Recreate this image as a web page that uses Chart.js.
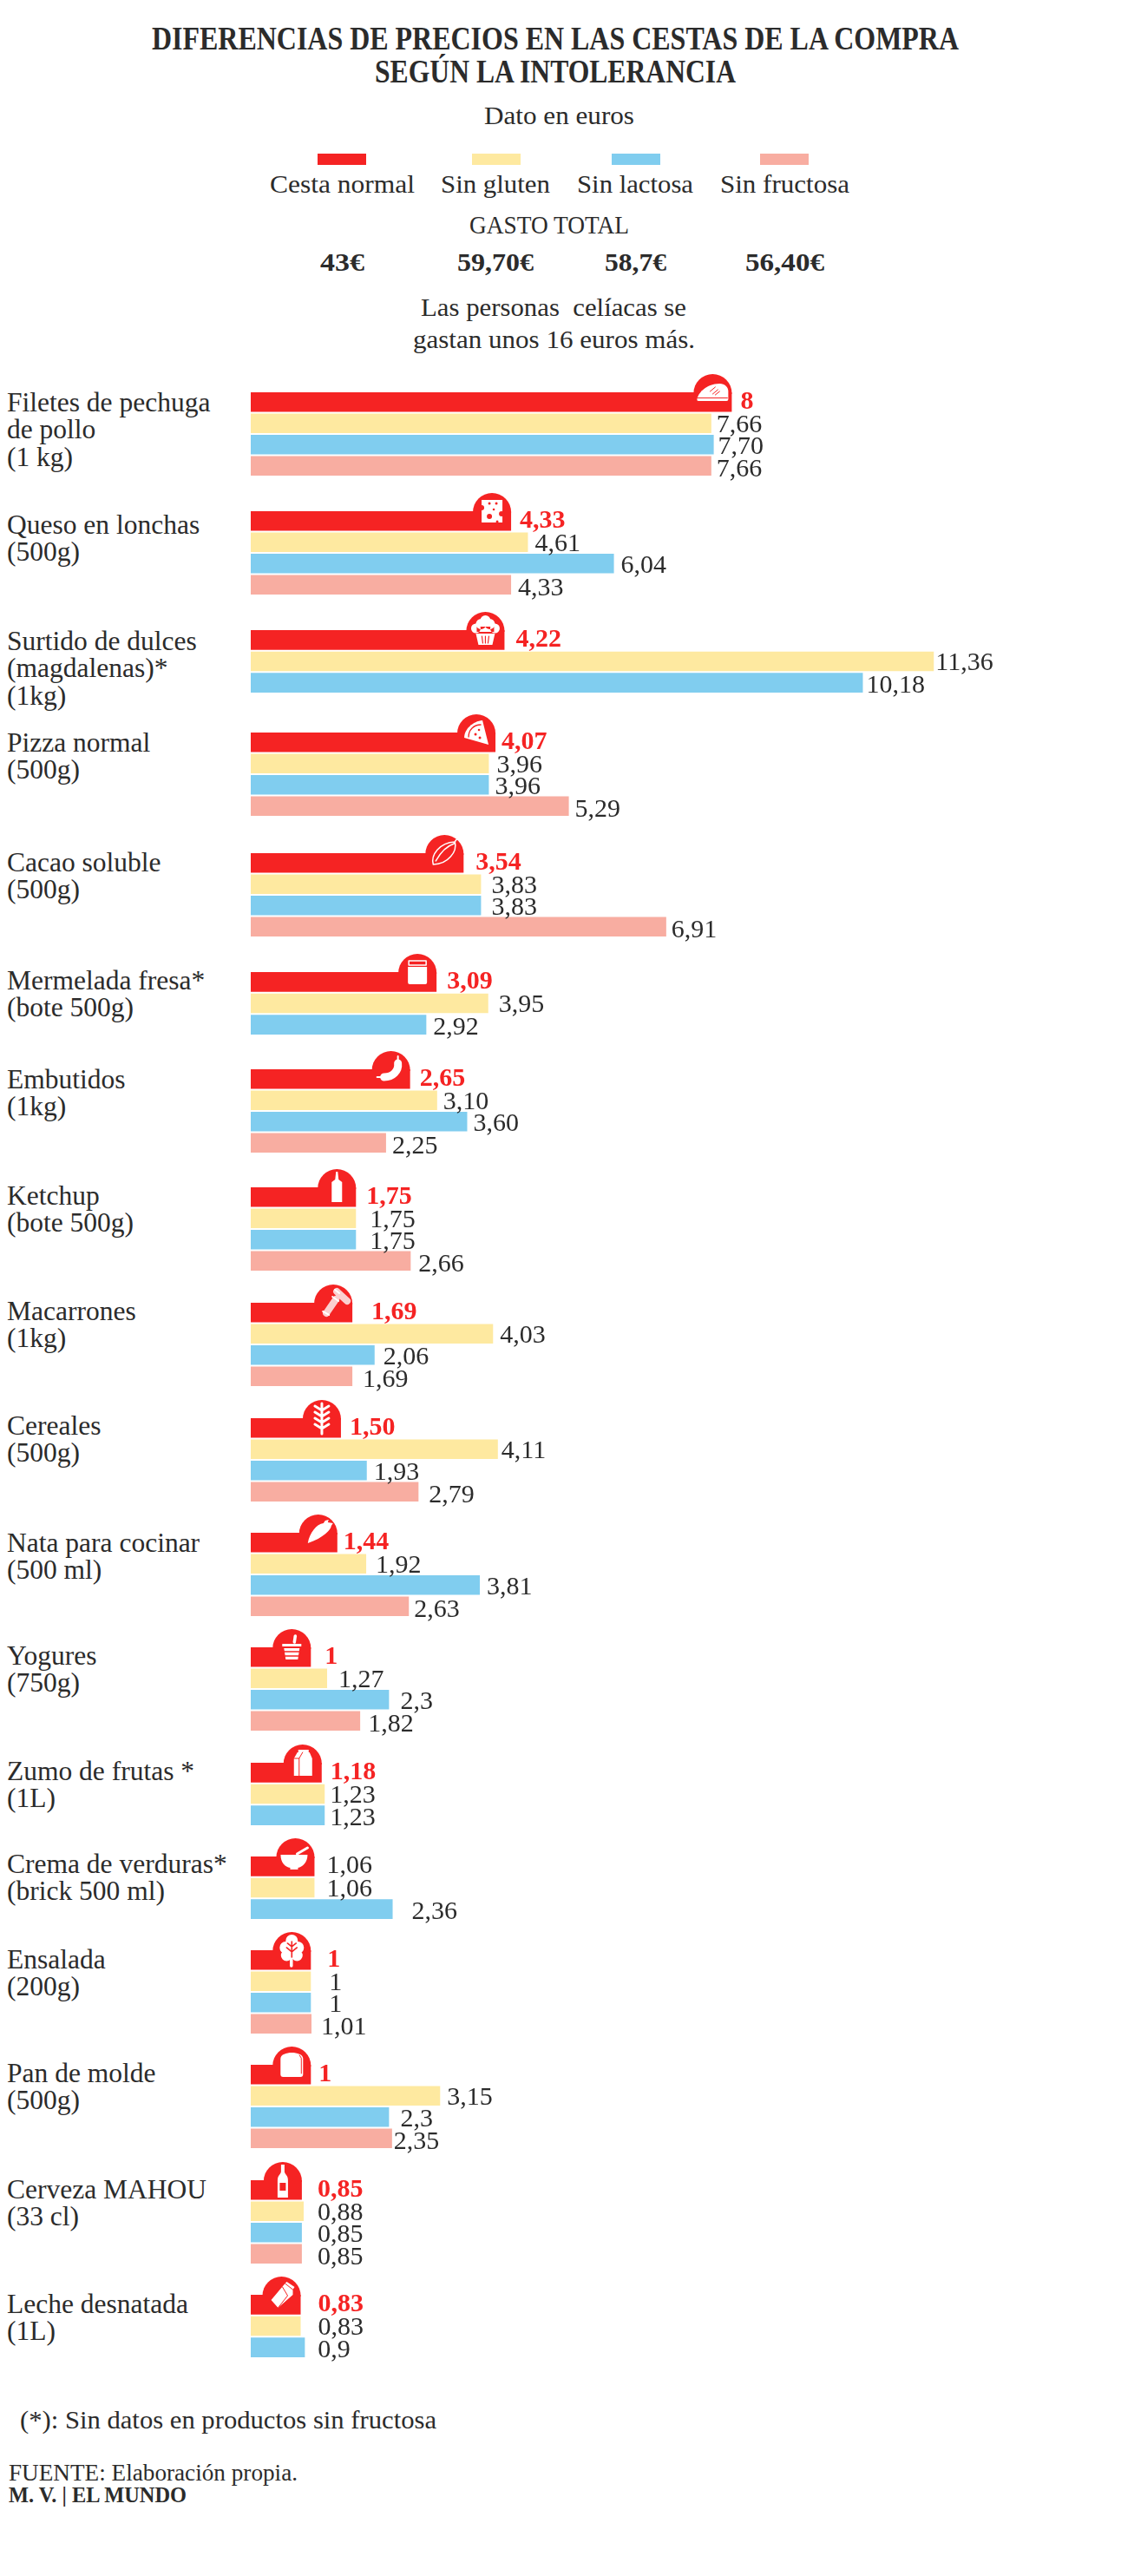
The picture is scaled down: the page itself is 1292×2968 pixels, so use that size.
<!DOCTYPE html>
<html lang="es">
<head>
  <meta charset="UTF-8">
  <title>Diferencias de precios en las cestas de la compra</title>
  <script src="https://cdn.jsdelivr.net/npm/chart.js"></script>
  <style>
    body { margin: 0; background: #fff; }
    #page { position: relative; width: 1292px; height: 2968px; overflow: hidden;
      font-family: "Liberation Serif", serif; color: #2b2b2b; }
    #page span { position: absolute; white-space: pre; transform-origin: 0 0; line-height: 1; }
    #page canvas { position: absolute; left: 0; }
    .swatch { position: absolute; height: 13px; top: 177px; }
  </style>
</head>
<body>
<div id="page"></div>
<script>
  const products = [
    ['Filetes de pechuga', 'de pollo', '(1 kg)'],
    ['Queso en lonchas', '(500g)'],
    ['Surtido de dulces', '(magdalenas)*', '(1kg)'],
    ['Pizza normal', '(500g)'],
    ['Cacao soluble', '(500g)'],
    ['Mermelada fresa*', '(bote 500g)'],
    ['Embutidos', '(1kg)'],
    ['Ketchup', '(bote 500g)'],
    ['Macarrones', '(1kg)'],
    ['Cereales', '(500g)'],
    ['Nata para cocinar', '(500 ml)'],
    ['Yogures', '(750g)'],
    ['Zumo de frutas *', '(1L)'],
    ['Crema de verduras*', '(brick 500 ml)'],
    ['Ensalada', '(200g)'],
    ['Pan de molde', '(500g)'],
    ['Cerveza MAHOU', '(33 cl)'],
    ['Leche desnatada', '(1L)']
  ];
  const seriesNames = ['Cesta normal', 'Sin gluten', 'Sin lactosa', 'Sin fructosa'];
  const seriesTotals = ['43€', '59,70€', '58,7€', '56,40€'];
  const cestaNormal = [8, 4.33, 4.22, 4.07, 3.54, 3.09, 2.65, 1.75, 1.69, 1.5, 1.44, 1, 1.18, 1.06, 1, 1, 0.85, 0.83];
  const sinGluten = [7.66, 4.61, 11.36, 3.96, 3.83, 3.95, 3.1, 1.75, 4.03, 4.11, 1.92, 1.27, 1.23, 1.06, 1, 3.15, 0.88, 0.83];
  const sinLactosa = [7.7, 6.04, 10.18, 3.96, 3.83, 2.92, 3.6, 1.75, 2.06, 1.93, 3.81, 2.3, 1.23, 2.36, 1, 2.3, 0.85, 0.9];
  const sinFructosa = [7.66, 4.33, null, 5.29, 6.91, null, 2.25, 2.66, 1.69, 2.79, 2.63, 1.82, null, null, 1.01, 2.35, 0.85, null];
  // the graphic prints these four with the trailing zero
  const printedTwoDecimals = [7.7, 3.1, 3.6, 1.5];

  // layout
  const seriesColors = ['#f52323', '#fee9a0', '#80cdef', '#f8ada1'];
  const rowTops = [452, 589, 726, 844, 983, 1120, 1232, 1368, 1501, 1634, 1766, 1898, 2031, 2139, 2247, 2379, 2512, 2644];
  const labelDrops = [22, 26, 23, 22, 21, 20, 22, 20, 20, 19, 22, 20, 20, 19, 21, 20, 21, 21];
  const barLeft = 289, pxPerEuro = 69.3, slot = 24.7;
  const pageWidth = 1292;
  // the figures were set by hand, so each one sits a little off the bar end
  const figureNudges = [
    [0, -4, -5, -4], [0, -2, -2, -2], [3, -8, -6], [-3, -1, -3, -3], [4, 2, 2, -4], [2, 2, -2],
    [1, -3, -3, -3], [2, 6, 6, -1], [12, -2, 0, 2], [0, -6, -2, 2], [-3, 1, -2, -4], [6, 3, 3, -1],
    [0, -4, -4], [4, 4, 12], [9, 11, 11, 1], [-1, -2, 3, -8], [8, 6, 8, 8], [10, 10, 5]
  ];
  const figureDrops = [8, 10, 11, 12];

  const page = document.getElementById('page');

  function text(str, x, baseline, opts) {
    const o = opts || {};
    const size = o.size || 30;
    const el = document.createElement('span');
    el.textContent = str;
    el.style.fontSize = size + 'px';
    if (o.bold) el.style.fontWeight = 'bold';
    // line-height 1: baseline sits about .8375 of the size below the top
    el.style.top = (baseline - size * 0.8375) + 'px';
    page.appendChild(el);
    const natural = el.getBoundingClientRect().width;
    const width = o.width || natural;
    const left = o.center ? x - width / 2 : x;
    el.style.left = left + 'px';
    el.style.transform = 'scaleX(' + (width / natural) + ')';
  }

  // white pictograms on the red tab, centred on the top of the bar end
  const dot = (x, y, r) => `M${x - r} ${y}a${r} ${r} 0 1 0 ${2 * r} 0a${r} ${r} 0 1 0 ${-2 * r} 0`;
  const white = '#fff', red = seriesColors[0], pale = '#fbcfcf';
  const icons = [
    [{ c: white, d: 'M-18 9C-18 2-8-10 8-10C14-10 18-6 18-1V8Q18 10 16 10H-16Q-18 10-18 9Z' },
     { c: red, w: 1, d: 'M-17 6.5H17M-3-1L3-6M0 2L6-3M3 3L8-1' }],
    [{ c: white, d: 'M-12-13H12V13H-12Z' },
     { c: red, d: dot(-12, -4, 3) + dot(-3, -9, 1.5) + dot(5, -9, 1.5) + dot(2, -2, 1.3) + dot(-3, 6, 3) + dot(11, 3, 3) + dot(6, 12, 1.5) }],
    [{ c: white, d: dot(-11, -2, 5.5) + dot(11, -2, 5.5) + dot(-5, -7, 6) + dot(5, -7, 6) + dot(0, -11, 6) + 'M-10-4H10V2H-10Z' },
     { c: white, d: 'M-11 4H11L8 17H-8Z' },
     { c: red, w: 1.2, d: 'M-4 7L-3 15M0 7V15M4 7L3 15' }],
    [{ c: white, d: 'M14 14L-14 6C-14-4-4-13 7-14Z' },
     { c: red, w: 1.3, d: 'M-9 5C-9-3-3-9 5-9' },
     { c: red, d: dot(-1, 2, 1.5) + dot(3, -3, 1.3) + dot(4, 6, 1.5) }],
    [{ c: white, w: 1.5, d: 'M-13 13C-16 2-6-12 12-13C15-2 4 13-13 13ZM-10 9C-4-2 2-8 11-11M11-12L14-16' }],
    [{ c: white, d: 'M-11-6H11V12Q11 14 9 14H-9Q-11 14-11 12Z' },
     { c: white, w: 1.5, d: 'M-10-13H10V-8H-10Z' }],
    [{ c: white, w: 9, d: 'M-8 9C2 9 9 2 8-7' },
     { c: white, w: 2, d: 'M8-11V-15M-12 9H-16' }],
    [{ c: white, d: 'M-1-18H1L2-9L6-6V17H-6V-6L-2-9Z' }],
    [{ c: pale, w: 8, d: 'M-8 12L3-4M4-13L16-2' },
     { c: white, w: 2, d: 'M-12 10L-5 14M-1-7L6-2M2-15L7-11' }],
    [{ c: white, w: 3, d: 'M-8-14L0-9L8-14M-8-7L0-2L8-7M-8 0L0 5L8 0M-8 7L0 12L8 7M0-17V18' }],
    [{ c: white, d: 'M-12 12C-10 0-2-10 6-11L8-14L12-15L11-12L17-11L15-8C15-4 6 6-12 12Z' }],
    [{ c: white, d: 'M-11-4H11V-1H-11ZM-9 1H9L7 14H-7Z' },
     { c: red, w: 1.5, d: 'M-9 5H9M-9 10H9' },
     { c: white, w: 3.5, d: 'M3-6L4-13' }],
    [{ c: white, d: 'M-10-5L-6-12H-5V-15H7V-12H8L11-5V15H-10Z' },
     { c: red, w: 1, d: 'M-4-5V15M-10-5H-4L0-12' }],
    [{ c: white, d: 'M-17-2H14C14 7 8 12 3 13V15H-6V13C-12 12-17 7-17-2Z' },
     { c: white, w: 3, d: 'M2-3L14-10' }],
    [{ c: white, d: dot(0, -11, 7) + dot(-7, -3, 7) + dot(7, -3, 7) + dot(-6, 6, 6.5) + dot(6, 6, 6.5) + dot(0, 2, 8) },
     { c: white, w: 3.5, d: 'M-.5 8V18' },
     { c: red, w: 1.6, d: 'M0-10V8M0-4L-5-8M0-4L5-8M0 2L-6-3M0 2L6-3' }],
    [{ c: white, d: 'M-13-7C-13-12-6-14 0-14C6-14 13-12 13-7V11Q13 14 10 14H-10Q-13 14-13 11Z' },
     { c: red, w: 1, d: 'M9-11Q12-8 11-4V10' }],
    [{ c: white, d: 'M-2-18H2V-10C2-7 6-6 6 0V20H-6V0C-6-6-2-7-2-10Z' },
     { c: red, d: 'M-3.5 3H3.5V12H-3.5Z' }],
    [{ c: white, d: 'M-12 6L4-13L6-15L15-9L13-6L13 0L-4 15Z' },
     { c: red, w: 1, d: 'M4-13L13-6M1-9L7 1L-4 15' }]
  ];

  function printed(v) {
    return printedTwoDecimals.includes(v) ? v.toFixed(2).replace('.', ',') : String(v).replace('.', ',');
  }

  const endLabels = {
    id: 'endLabels',
    afterDatasetsDraw(chart) {
      const ctx = chart.ctx;
      const row = chart.options.row;
      const bars = chart.getDatasetMeta(0).data;
      const values = chart.data.datasets[0].data;

      // the round tab with the pictogram on the first bar
      const end = bars[0].x, top = bars[0].y - bars[0].height / 2;
      ctx.save();
      ctx.fillStyle = red;
      ctx.beginPath();
      ctx.arc(end - 22, top + 1, 22, Math.PI, 0);
      ctx.lineTo(end, top + 2);
      ctx.lineTo(end - 44, top + 2);
      ctx.fill();
      ctx.translate(end - 22, top);
      ctx.lineCap = 'round';
      ctx.lineJoin = 'round';
      icons[row].forEach(part => {
        const path = new Path2D(part.d);
        if (part.w) {
          ctx.strokeStyle = part.c;
          ctx.lineWidth = part.w;
          ctx.stroke(path);
        } else {
          ctx.fillStyle = part.c;
          ctx.fill(path);
        }
      });
      ctx.restore();

      ctx.save();
      bars.forEach((bar, i) => {
        // Crema de verduras has its first figure in plain ink
        const highlight = i === 0 && row !== 13;
        ctx.font = (highlight ? 'bold ' : '') + '30px "Liberation Serif"';
        ctx.fillStyle = highlight ? red : '#2b2b2b';
        ctx.fillText(printed(values[i]), bar.x + 10 + figureNudges[row][i], bar.y + figureDrops[i]);
      });
      ctx.restore();
    }
  };

  text('DIFERENCIAS DE PRECIOS EN LAS CESTAS DE LA COMPRA', 175, 56.5, { size: 37, bold: true, width: 930 });
  text('SEGÚN LA INTOLERANCIA', 432, 95, { size: 37, bold: true, width: 416 });
  text('Dato en euros', 644, 143.5, { size: 30, center: true, width: 173 });

  const legendLeft = [366, 544, 705, 876], legendWidth = 56;
  const legendCenter = [394.5, 571, 732, 904], legendTextWidth = [167, 126, 134, 149], totalWidth = [51, 88, 71, 91];
  seriesNames.forEach((name, i) => {
    const sw = document.createElement('div');
    sw.className = 'swatch';
    sw.style.left = legendLeft[i] + 'px';
    sw.style.width = legendWidth + 'px';
    sw.style.background = seriesColors[i];
    page.appendChild(sw);
    text(name, legendCenter[i], 222.5, { center: true, width: legendTextWidth[i] });
    text(seriesTotals[i], legendCenter[i], 312, { center: true, bold: true, width: totalWidth[i] });
  });
  text('GASTO TOTAL', 633, 269.5, { center: true, width: 184 });
  text('Las personas  celíacas se', 638, 364.5, { center: true, width: 306 });
  text('gastan unos 16 euros más.', 638, 401, { center: true, width: 325 });

  products.forEach((lines, row) => {
    lines.forEach((line, k) => {
      text(line, 8, rowTops[row] + labelDrops[row] + k * 31.5, { size: 31.5 });
    });

    const values = [cestaNormal[row], sinGluten[row], sinLactosa[row], sinFructosa[row]];
    const present = values.map((v, i) => i).filter(i => values[i] !== null);

    const canvas = document.createElement('canvas');
    const topPad = 24, bottomPad = 16;
    canvas.width = pageWidth;
    canvas.height = topPad + present.length * slot + bottomPad;
    canvas.style.top = (rowTops[row] - topPad - 1) + 'px';
    page.appendChild(canvas);

    new Chart(canvas.getContext('2d'), {
      type: 'bar',
      data: {
        labels: present.map(i => seriesNames[i]),
        datasets: [{
          label: lines.join(' '),
          data: present.map(i => values[i]),
          backgroundColor: present.map(i => seriesColors[i]),
          barPercentage: 0.92,
          categoryPercentage: 1
        }]
      },
      options: {
        row: row,
        indexAxis: 'y',
        responsive: false,
        animation: false,
        layout: { padding: { left: barLeft, top: topPad, bottom: bottomPad, right: 0 } },
        plugins: { legend: { display: false }, tooltip: { enabled: false } },
        scales: {
          x: { display: false, min: 0, max: (pageWidth - barLeft) / pxPerEuro },
          y: { display: false }
        }
      },
      plugins: [endLabels]
    });
  });

  text('(*): Sin datos en productos sin fructosa', 23, 2798, { width: 480 });
  text('FUENTE: Elaboración propia.', 10, 2858, { size: 28, width: 333 });
  text('M. V. | EL MUNDO', 10, 2884, { size: 26, bold: true, width: 205 });
</script>
</body>
</html>
